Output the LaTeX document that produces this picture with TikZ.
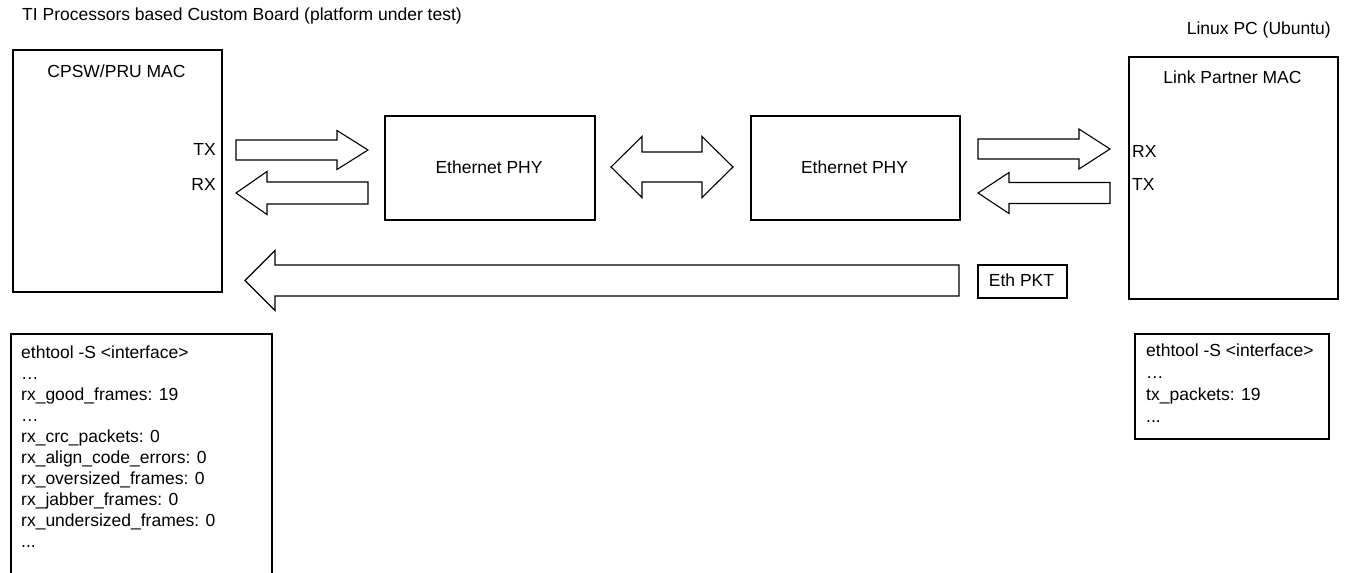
\documentclass[tikz,border=0pt]{standalone}
\usepackage{fontspec}
\setmainfont{Liberation Sans}
\usetikzlibrary{calc}
\tikzset{
  box/.style={draw, line width=1.8pt, inner sep=0pt, rectangle, anchor=north west},
  thinbox/.style={draw, line width=1.6pt, inner sep=0pt, rectangle, anchor=north west},
  lbl/.style={inner sep=0pt, font=\fontsize{17.5}{21}\selectfont},
  barrow/.style={draw, line width=1.1pt, fill=white, line join=miter},
}
\newcommand\blockarrow[5]{%
  \draw[barrow] let \p1=(#1), \p2=(#2), \n1={ifthenelse(\x2>\x1,1,-1)} in
    (\x1,{\y1+#3}) -- ({\x2-(\n1)*#5},{\y1+#3}) -- ({\x2-(\n1)*#5},{\y1+#4})
    -- (\x2,\y1) -- ({\x2-(\n1)*#5},{\y1-#4}) -- ({\x2-(\n1)*#5},{\y1-#3})
    -- (\x1,{\y1-#3}) -- cycle;}
\begin{document}
\begin{tikzpicture}[x=1pt,y=-1pt]
\useasboundingbox (0,0) rectangle (1345,573);
\fill[white] (0,0) rectangle (1345,573);
\clip (0,0) rectangle (1345,573);

% titles
\node[lbl, anchor=west] (title) at (22,16) {TI Processors based Custom Board (platform under test)};
\node[lbl, anchor=east] (pctitle) at (1331,30) {Linux PC (Ubuntu)};

% main boxes
\node[box, minimum width=209pt, minimum height=242pt] (mac) at (12,49) {};
\node[lbl] (macl) at (116.5,71) {CPSW/PRU MAC};
\node[lbl, anchor=east] (mactx) at (216,149) {TX};
\node[lbl, anchor=east] (macrx) at (216,184) {RX};

\node[box, minimum width=210pt, minimum height=104pt] (phya) at (384,115) {};
\node[lbl] (phyal) at (489,167) {Ethernet PHY};

\node[box, minimum width=209pt, minimum height=104pt] (phyb) at (750,115) {};
\node[lbl] (phybl) at (854.5,167) {Ethernet PHY};

\node[box, minimum width=209pt, minimum height=242pt] (lp) at (1128,56) {};
\node[lbl] (lpl) at (1232.5,77) {Link Partner MAC};
\node[lbl, anchor=west] (lprx) at (1132,151) {RX};
\node[lbl, anchor=west] (lptx) at (1132,184) {TX};

\node[box, minimum width=89pt, minimum height=33pt] (pkt) at (977,264) {};
\node[lbl] (pktl) at (1021.5,280.5) {Eth PKT};

% arrow end points
\coordinate (a1s) at (236,150);  \coordinate (a1e) at (368,150);
\coordinate (a2s) at (368,193);  \coordinate (a2e) at (236,193);
\coordinate (a3s) at (611,167);  \coordinate (a3e) at (733,167);
\coordinate (a4s) at (978,149);  \coordinate (a4e) at (1110,149);
\coordinate (a5s) at (1110,193); \coordinate (a5e) at (978,193);
\coordinate (a6s) at (959,280.5); \coordinate (a6e) at (245,280.5);

\blockarrow{a1s}{a1e}{10pt}{19.5pt}{31pt}
\blockarrow{a2s}{a2e}{11pt}{21.5pt}{31pt}
\blockarrow{a4s}{a4e}{10pt}{20pt}{31pt}
\blockarrow{a5s}{a5e}{10.5pt}{20.5pt}{31pt}
\blockarrow{a6s}{a6e}{15.5pt}{30pt}{30pt}
\draw[barrow] let \p1=(a3s), \p2=(a3e) in
  (\x1,\y1) -- ({\x1+31pt},{\y1+30.5pt}) -- ({\x1+31pt},{\y1+15pt})
  -- ({\x2-31pt},{\y1+15pt}) -- ({\x2-31pt},{\y1+30.5pt}) -- (\x2,\y1)
  -- ({\x2-31pt},{\y1-30.5pt}) -- ({\x2-31pt},{\y1-15pt})
  -- ({\x1+31pt},{\y1-15pt}) -- ({\x1+31pt},{\y1-30.5pt}) -- cycle;

% statistics boxes
\node[thinbox, minimum width=261pt, minimum height=270pt] (stl) at (10,333) {};
\node[lbl, anchor=north west, align=left] (stlt) at (21,346) {ethtool -S <interface>\\ …\\ rx\_good\_frames: 19\\ …\\ rx\_crc\_packets: 0\\ rx\_align\_code\_errors: 0\\ rx\_oversized\_frames: 0\\ rx\_jabber\_frames: 0\\ rx\_undersized\_frames: 0\\ ...};

\node[thinbox, minimum width=194pt, minimum height=105pt] (str) at (1134,333) {};
\node[lbl, anchor=north west, align=left, font=\fontsize{17.5}{22}\selectfont] (strt) at (1146,344) {ethtool -S <interface>\\ …\\ tx\_packets: 19\\ ...};
\end{tikzpicture}
\end{document}
